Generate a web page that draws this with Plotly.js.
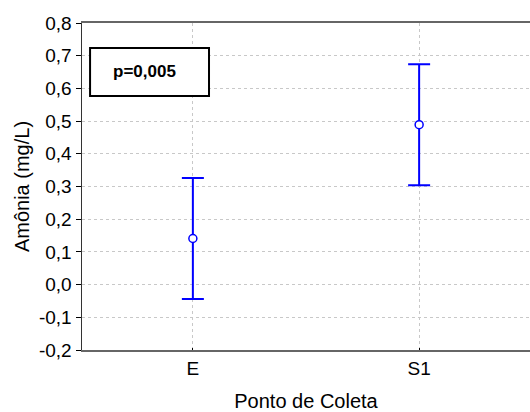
<!DOCTYPE html>
<html>
<head>
<meta charset="utf-8">
<script src="https://cdn.plot.ly/plotly-3.0.1.min.js"></script>
<style>html,body{margin:0;padding:0;background:#fff;}#chart{width:530px;height:412px;}</style>
</head>
<body>
<div id="chart"></div>
<script>
const categories = ['E', 'S1'];
const means = [0.141, 0.489];
const errors = [0.185, 0.185];
const yTickVals = [-0.2, -0.1, 0.0, 0.1, 0.2, 0.3, 0.4, 0.5, 0.6, 0.7, 0.8];
const yTickText = ['-0,2', '-0,1', '0,0', '0,1', '0,2', '0,3', '0,4', '0,5', '0,6', '0,7', '0,8'];
const pLabel = 'p=0,005';

const trace = {
  x: categories,
  y: means,
  type: 'scatter',
  mode: 'markers',
  marker: {symbol: 'circle', size: 8, color: '#ffffff', line: {color: '#0000ff', width: 1.5}},
  error_y: {type: 'data', array: errors, visible: true, color: '#0000ff', thickness: 2, width: 11},
  hoverinfo: 'skip',
  showlegend: false
};

const fam = 'Liberation Sans, Arial, sans-serif';

const layout = {
  width: 530, height: 412,
  margin: {l: 82, r: 0, t: 23, b: 62, pad: 0},
  paper_bgcolor: '#fff', plot_bgcolor: '#fff',
  font: {family: fam, size: 19, color: '#000'},
  showlegend: false,
  xaxis: {
    type: 'category',
    range: [-0.49, 1.49],
    showgrid: true, gridcolor: '#c8c8c8', griddash: 'dot', gridwidth: 1,
    showline: true, linecolor: '#666', linewidth: 2, mirror: true,
    ticks: 'inside', ticklen: 2, tickcolor: '#000',
    tickfont: {family: fam, size: 19, color: '#000'},
    zeroline: false,
    title: {text: 'Ponto de Coleta', font: {family: fam, size: 20, color: '#000'}, standoff: 16}
  },
  yaxis: {
    range: [-0.2, 0.8],
    tickvals: yTickVals, ticktext: yTickText,
    showgrid: true, gridcolor: '#c8c8c8', griddash: 'dot', gridwidth: 1,
    showline: true, linecolor: '#333', linewidth: 1.5, mirror: false,
    ticks: 'outside', ticklen: 5, tickcolor: '#000',
    tickfont: {family: fam, size: 19, color: '#000'},
    zeroline: false,
    title: {text: 'Amônia (mg/L)', font: {family: fam, size: 20, color: '#000'}, standoff: 4}
  },
  shapes: [{
    type: 'rect', xref: 'paper', yref: 'paper',
    x0: 0.018, x1: 0.2835, y0: 0.777, y1: 0.9235,
    line: {color: '#000', width: 2}, fillcolor: '#fff', layer: 'above'
  }],
  annotations: [{
    xref: 'paper', yref: 'paper', x: 0.14, y: 0.853,
    text: '<b>' + pLabel + '</b>', showarrow: false,
    font: {family: fam, size: 17, color: '#000'},
    xanchor: 'center', yanchor: 'middle'
  }]
};

Plotly.newPlot('chart', [trace], layout, {displayModeBar: false, staticPlot: true});
</script>
</body>
</html>
